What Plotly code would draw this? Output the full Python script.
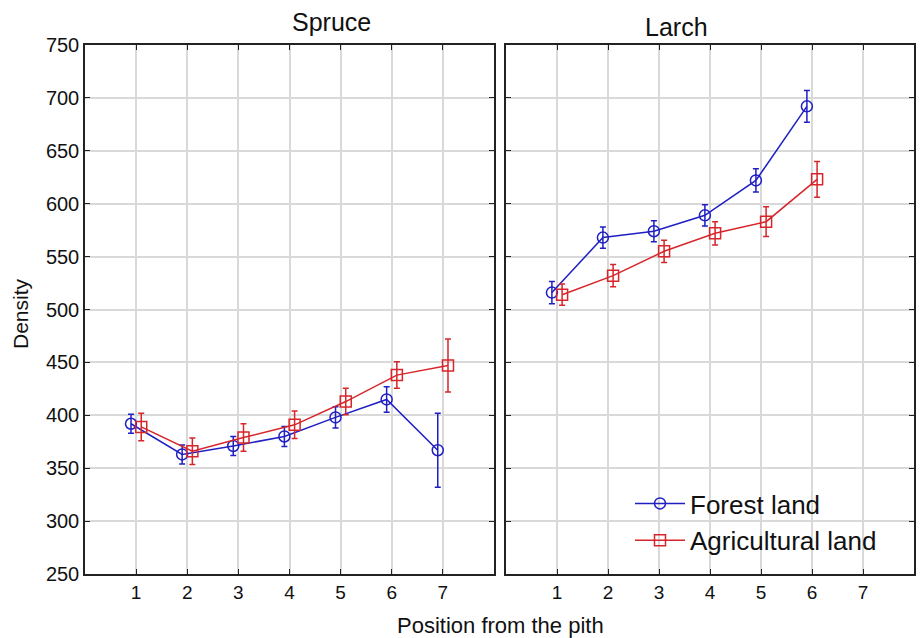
import plotly.graph_objects as go

positions = [1, 2, 3, 4, 5, 6, 7]
spruce_forest = [392, 363, 371, 380, 398, 415, 367]
spruce_forest_err = [9, 9, 9, 9.5, 10, 12, 35]
spruce_agri = [389, 366, 379, 391, 413, 438, 447]
spruce_agri_err = [13, 12.5, 13, 13, 12.5, 12.5, 25]
larch_pos = [1, 2, 3, 4, 5, 6]
larch_forest = [516, 568, 574, 589, 622, 692]
larch_forest_err = [10.5, 10, 10, 10, 11, 15]
larch_agri = [514, 532, 555, 572, 583, 623]
larch_agri_err = [10, 10.5, 10.5, 11, 14, 17]

BLUE = "#1f1fc4"
RED = "#d6262b"
off = 0.1

fig = go.Figure()

def add(xs, ys, es, color, symbol, name, xa, ya, show, shift):
    fig.add_trace(go.Scatter(
        x=[x + shift for x in xs], y=ys, mode="lines+markers", name=name,
        line=dict(color=color, width=1.5),
        marker=dict(symbol=symbol, size=11, color=color,
                    line=dict(color=color, width=1.5)),
        error_y=dict(type="data", array=es, visible=True, color=color,
                     thickness=1.5, width=3),
        xaxis=xa, yaxis=ya, showlegend=show))

add(positions, spruce_forest, spruce_forest_err, BLUE, "circle-open", "Forest land", "x", "y", True, -off)
add(positions, spruce_agri, spruce_agri_err, RED, "square-open", "Agricultural land", "x", "y", True, off)
add(larch_pos, larch_forest, larch_forest_err, BLUE, "circle-open", "Forest land", "x2", "y2", False, -off)
add(larch_pos, larch_agri, larch_agri_err, RED, "square-open", "Agricultural land", "x2", "y2", False, off)

ax_common = dict(range=[0, 8], tickvals=positions, showgrid=True, gridcolor="#d9d9d9",
                 gridwidth=1.5, showline=True, linecolor="#222", linewidth=1.5, mirror="ticks",
                 ticks="inside", ticklen=5, tickcolor="#222", zeroline=False, automargin=False,
                 tickfont=dict(size=19, color="#111"))
ay_common = dict(range=[250, 750], dtick=50, showgrid=True, gridcolor="#d9d9d9",
                 gridwidth=1.5, showline=True, linecolor="#222", linewidth=1.5, mirror="ticks",
                 ticks="inside", ticklen=5, tickcolor="#222", zeroline=False, automargin=False,
                 tickfont=dict(size=20, color="#111"))

yd = [(638 - 574) / 638, (638 - 45) / 638]
fig.update_layout(
    width=920, height=638, margin=dict(l=0, r=0, t=0, b=0, autoexpand=False),
    paper_bgcolor="white", plot_bgcolor="white",
    font=dict(family="Liberation Sans, Arial, sans-serif", color="#111"),
    xaxis=dict(domain=[85 / 920, 494 / 920], anchor="y", **ax_common),
    yaxis=dict(domain=yd, anchor="x", **ay_common),
    xaxis2=dict(domain=[506 / 920, 914 / 920], anchor="y2", **ax_common),
    yaxis2=dict(domain=yd, anchor="x2", showticklabels=False, **ay_common),
    legend=dict(x=630 / 920, y=(638 - 480) / 638, xanchor="left", yanchor="top",
                font=dict(size=26, color="#111"), bgcolor="rgba(0,0,0,0)",
                itemwidth=50, tracegroupgap=0),
    annotations=[
        dict(text="Spruce", x=(85 + 494) / 2 / 920, y=(638 - 22) / 638, xref="paper", yref="paper",
             yanchor="middle", showarrow=False, font=dict(size=25)),
        dict(text="Larch", x=(506 + 914) / 2 / 920, y=(638 - 27) / 638, xref="paper", yref="paper",
             yanchor="middle", showarrow=False, font=dict(size=25)),
        dict(text="Density", x=20 / 920, y=(638 - 314) / 638, xref="paper", yref="paper",
             xanchor="center", yanchor="middle", showarrow=False, textangle=-90, font=dict(size=21)),
        dict(text="Position from the pith", x=500 / 920, y=(638 - 625) / 638, xref="paper", yref="paper",
             yanchor="middle", showarrow=False, font=dict(size=22)),
    ],
)

fig.write_html("out.html")
